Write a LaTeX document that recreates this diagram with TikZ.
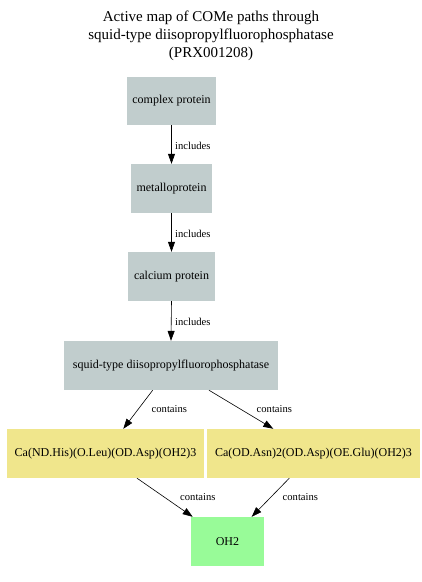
\documentclass[tikz,border=0pt]{standalone}
\usepackage{fontspec}
\setmainfont{Liberation Serif}
\usetikzlibrary{arrows.meta}
\definecolor{greybox}{HTML}{C1CDCD}
\definecolor{khakibox}{HTML}{F0E68C}
\definecolor{greenbox}{HTML}{98FB98}
\tikzset{
  box/.style={fill=#1, draw=none, inner sep=0pt, font=\fontsize{12}{14}\selectfont, anchor=center},
  conn/.style={draw=black, line width=0.6pt, -{Triangle[length=10pt,width=7pt]}},
  elabel/.style={font=\fontsize{10.6}{12}\selectfont, inner sep=0pt, anchor=west},
}
\begin{document}
\begin{tikzpicture}[x=1pt,y=-1pt]
\useasboundingbox (0,0) rectangle (422,582);
\node[align=center, font=\fontsize{15}{18}\selectfont, inner sep=0pt] (title) at (211,36)
  {Active map of COMe paths through\\squid-type diisopropylfluorophosphatase\\(PRX001208)};
\node[box=greybox, minimum width=89pt, minimum height=48pt] (cp) at (171.5,101) {complex protein};
\node[box=greybox, minimum width=81pt, minimum height=49pt] (mp) at (171.5,188.5) {metalloprotein};
\node[box=greybox, minimum width=87pt, minimum height=49pt] (calp) at (171.5,276.5) {calcium protein};
\node[box=greybox, minimum width=214pt, minimum height=49pt] (sq) at (171,365.5) {squid-type diisopropylfluorophosphatase};
\node[box=khakibox, minimum width=197pt, minimum height=49pt] (ca1) at (105.5,453.5) {Ca(ND.His)(O.Leu)(OD.Asp)(OH2)3};
\node[box=khakibox, minimum width=213pt, minimum height=49pt] (ca2) at (313.5,453.5) {Ca(OD.Asn)2(OD.Asp)(OE.Glu)(OH2)3};
\node[box=greenbox, minimum width=73pt, minimum height=49pt] (oh) at (227.5,541.5) {OH2};

\draw[conn] (cp.south) -- (mp.north);
\draw[conn] (mp.south) -- (calp.north);
\draw[conn] (calp.south) -- (sq.north);
\draw[conn] ([xshift=-18.3pt]sq.south) -- ([xshift=17.8pt]ca1.north);
\draw[conn] ([xshift=38pt]sq.south) -- ([xshift=-40.2pt]ca2.north);
\draw[conn] ([xshift=31.5pt]ca1.south) -- ([xshift=-34.8pt]oh.north);
\draw[conn] ([xshift=-24.2pt]ca2.south) -- ([xshift=24.2pt]oh.north);

\node[elabel] (l1) at (175,145.5) {includes};
\node[elabel] (l2) at (175,233.5) {includes};
\node[elabel] (l3) at (175,321.5) {includes};
\node[elabel] (l4) at (151.5,409.5) {contains};
\node[elabel] (l5) at (256.5,409.5) {contains};
\node[elabel] (l6) at (180,497.5) {contains};
\node[elabel] (l7) at (282.5,497.5) {contains};
\end{tikzpicture}
\end{document}
